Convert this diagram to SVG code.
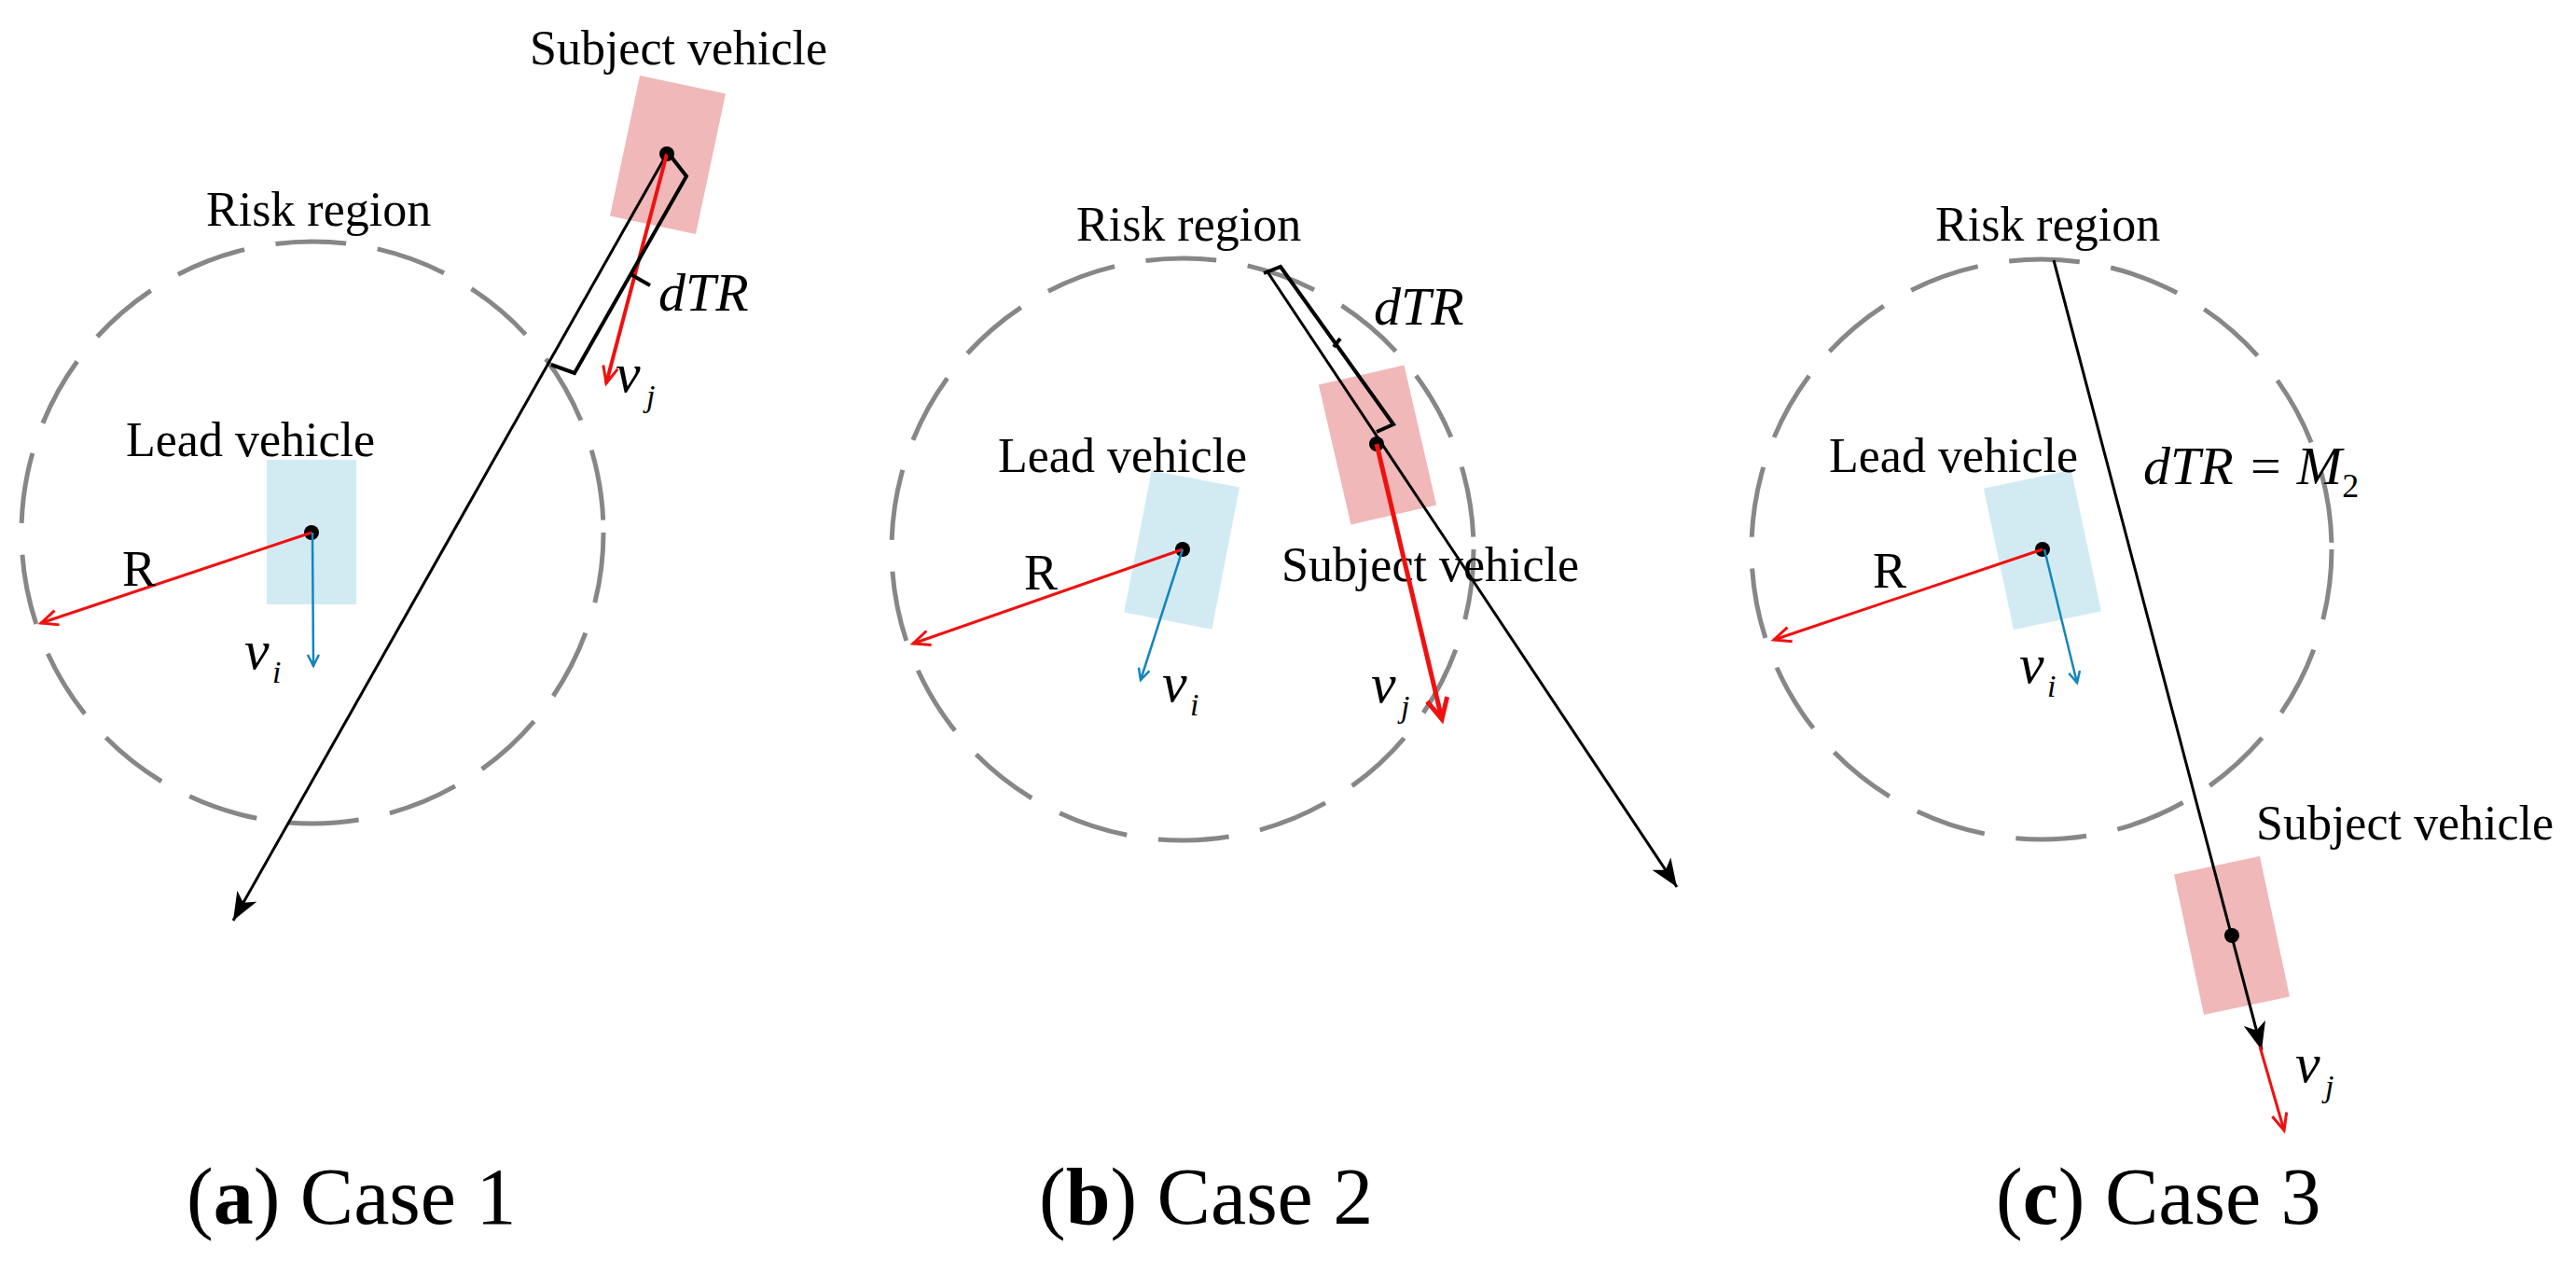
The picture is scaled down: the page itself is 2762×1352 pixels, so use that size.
<svg xmlns="http://www.w3.org/2000/svg" width="2762" height="1352" viewBox="0 0 2762 1352">
<style>
text{font-family:"Liberation Serif","Times New Roman",serif;fill:#000}
.lbl{font-size:52px}
.cap{font-size:86px}
.it{font-style:italic}
.risk{fill:none;stroke:#878787;stroke-width:5;stroke-dasharray:76 34}
.lead{fill:#d2ebf3}
.subj{fill:#f0b8b8}
.blk{stroke:#000;stroke-width:3;fill:none}
.red{stroke:#f01010;stroke-width:3;fill:none}
.blue{stroke:#1485bd;stroke-width:2.5;fill:none}
.brk{stroke:#000;stroke-width:4;fill:none;stroke-linejoin:miter}
</style>
<defs>
<marker id="ab" markerUnits="userSpaceOnUse" markerWidth="40" markerHeight="30" refX="30" refY="12" orient="auto"><path d="M0,0 L30,12 L0,24 L8,12 Z" fill="#000"/></marker>
<marker id="ar" markerUnits="userSpaceOnUse" markerWidth="30" markerHeight="24" refX="20" refY="10" orient="auto"><path d="M2,2 L20,10 L2,18" fill="none" stroke="#f01010" stroke-width="3"/></marker>
<marker id="arb" markerUnits="userSpaceOnUse" markerWidth="36" markerHeight="30" refX="24" refY="13" orient="auto"><path d="M2,2 L24,13 L2,24" fill="none" stroke="#f01010" stroke-width="5"/></marker>
<marker id="au" markerUnits="userSpaceOnUse" markerWidth="24" markerHeight="20" refX="14" refY="8" orient="auto"><path d="M2,2 L14,8 L2,14" fill="none" stroke="#1485bd" stroke-width="2.5"/></marker>
</defs>

<!-- Case 1 -->
<g id="case1">
<g id="c1-risk"><circle class="risk" cx="335" cy="571" r="312"/><text class="lbl" x="221" y="242">Risk region</text></g>
<g id="c1-lead"><rect class="lead" x="286" y="493" width="96" height="155"/><text class="lbl" x="135" y="489">Lead vehicle</text><circle cx="334" cy="571" r="8"/></g>
<g id="c1-subject"><rect class="subj" x="-47" y="-77" width="94" height="154" transform="translate(716,166) rotate(12)"/><text class="lbl" x="568" y="69">Subject vehicle</text><circle cx="715" cy="165" r="8"/></g>
<g id="c1-connectors">
<line class="blk" x1="715" y1="165" x2="250" y2="987" marker-end="url(#ab)"/>
<line class="red" x1="334" y1="571" x2="44" y2="668" marker-end="url(#ar)"/>
<line class="blue" x1="335" y1="571" x2="336" y2="714" marker-end="url(#au)"/>
<line class="red" style="stroke-width:4" x1="715" y1="165" x2="650" y2="411" marker-end="url(#ar)"/>
<polyline class="brk" points="715,162 736,189 616,400 591,391"/>
<line class="brk" x1="676" y1="294" x2="697" y2="306"/>
</g>
<text class="it" font-size="58" x="706" y="333">dTR</text>
<text class="it" font-size="60" x="660" y="420">v</text><text class="it" font-size="34" x="693" y="436">j</text>
<text font-size="54" x="131" y="628">R</text>
<text class="it" font-size="60" x="262" y="717">v</text><text class="it" font-size="34" x="292" y="732">i</text>
<text class="cap" x="200" y="1312">(<tspan font-weight="bold">a</tspan>) Case 1</text>
</g>

<!-- Case 2 -->
<g id="case2">
<g id="c2-risk"><circle class="risk" cx="1268" cy="589" r="312"/><text class="lbl" x="1154" y="258">Risk region</text></g>
<g id="c2-lead"><rect class="lead" x="-48" y="-78" width="96" height="155" transform="translate(1267,590) rotate(11)"/><text class="lbl" x="1070" y="506">Lead vehicle</text><circle cx="1268" cy="589" r="8"/></g>
<g id="c2-subject"><rect class="subj" x="-47" y="-77" width="94" height="154" transform="translate(1477,477) rotate(-13)"/><text class="lbl" x="1374" y="623">Subject vehicle</text><circle cx="1476" cy="476" r="8"/></g>
<g id="c2-connectors">
<line class="blk" x1="1358" y1="290" x2="1798" y2="951" marker-end="url(#ab)"/>
<line class="red" x1="1268" y1="589" x2="979" y2="690" marker-end="url(#ar)"/>
<line class="blue" x1="1268" y1="589" x2="1223" y2="729" marker-end="url(#au)"/>
<line class="red" style="stroke-width:5" x1="1476" y1="476" x2="1546" y2="771" marker-end="url(#arb)"/>
<polyline class="brk" points="1355,293 1373,286 1494,455 1476,463"/>
<line class="brk" x1="1437" y1="363" x2="1430" y2="372"/>
</g>
<text class="it" font-size="58" x="1473" y="348">dTR</text>
<text class="it" font-size="60" x="1470" y="753">v</text><text class="it" font-size="34" x="1502" y="769">j</text>
<text font-size="54" x="1098" y="632">R</text>
<text class="it" font-size="60" x="1246" y="752">v</text><text class="it" font-size="34" x="1276" y="767">i</text>
<text class="cap" x="1114" y="1312">(<tspan font-weight="bold">b</tspan>) Case 2</text>
</g>

<!-- Case 3 -->
<g id="case3">
<g id="c3-risk"><circle class="risk" cx="2189" cy="589" r="311"/><text class="lbl" x="2075" y="258">Risk region</text></g>
<g id="c3-lead"><rect class="lead" x="-48" y="-78" width="96" height="155" transform="translate(2190,590) rotate(-12)"/><text class="lbl" x="1961" y="506">Lead vehicle</text><circle cx="2190" cy="589" r="8"/></g>
<g id="c3-subject"><rect class="subj" x="-47" y="-77" width="94" height="154" transform="translate(2393,1003) rotate(-12)"/><text class="lbl" x="2419" y="900">Subject vehicle</text><circle cx="2393" cy="1003" r="8"/></g>
<g id="c3-connectors">
<line class="blk" x1="2202" y1="279" x2="2425" y2="1126" marker-end="url(#ab)"/>
<line class="red" x1="2190" y1="589" x2="1902" y2="686" marker-end="url(#ar)"/>
<line class="blue" x1="2192" y1="589" x2="2227" y2="732" marker-end="url(#au)"/>
<line class="red" x1="2423" y1="1122" x2="2449" y2="1212" marker-end="url(#ar)"/>
</g>
<text class="it" font-size="58" x="2298" y="519">dTR = M<tspan font-size="36" font-style="normal" dy="14">2</tspan></text>
<text class="it" font-size="60" x="2461" y="1160">v</text><text class="it" font-size="34" x="2493" y="1176">j</text>
<text font-size="54" x="2008" y="630">R</text>
<text class="it" font-size="60" x="2165" y="732">v</text><text class="it" font-size="34" x="2195" y="747">i</text>
<text class="cap" x="2140" y="1312">(<tspan font-weight="bold">c</tspan>) Case 3</text>
</g>
</svg>
